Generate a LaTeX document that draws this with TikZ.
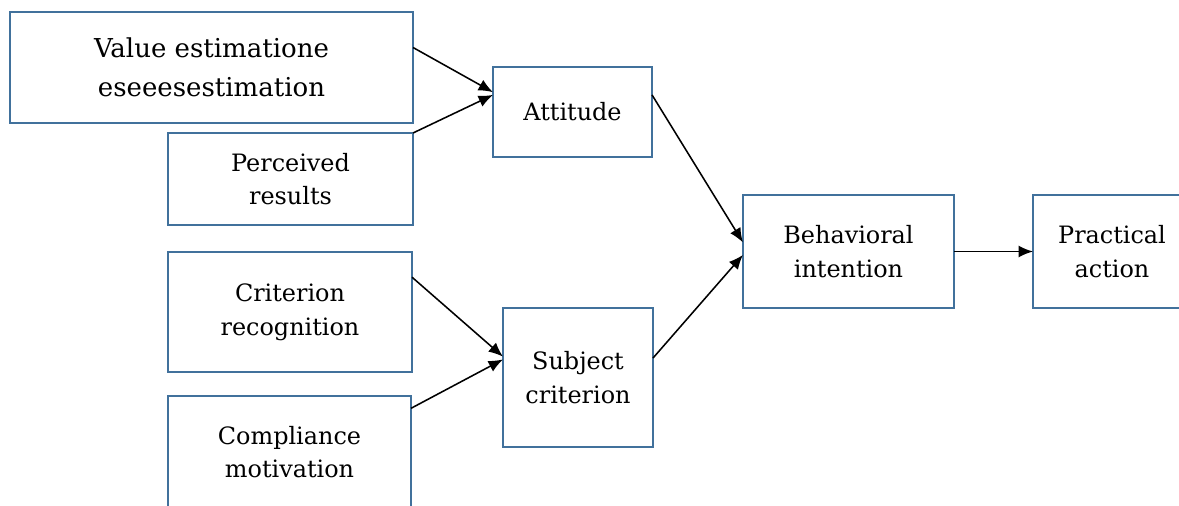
\documentclass[tikz,border=0pt]{standalone}
\usepackage{fontspec}
\setmainfont{DejaVu Serif}
\usetikzlibrary{arrows.meta,calc}
\definecolor{boxblue}{HTML}{41719C}
\begin{document}
\begin{tikzpicture}[x=0.025cm, y=-0.025cm,
        box/.style={draw=boxblue, line width=1.2pt, fill=white, inner sep=0pt, outer sep=0pt, align=center,
            font=\fontsize{17}{24}\selectfont},
        arr/.style={line width=1.1pt, -{Latex[length=3.6mm,width=3mm]}}]
    \clip (0,0) rectangle (1179,506);
    \fill[white] (0,0) rectangle (1179,506);
    % inputs
    \node[box, minimum width=10.075cm, minimum height=2.775cm, font=\fontsize{18.5}{27.5}\selectfont]
        (val) at (211.5,67.5) {Value estimatione\\eseeesestimation};
    \node[box, minimum width=6.125cm, minimum height=2.3cm] (per) at (290.5,179) {Perceived\\results};
    \node[box, minimum width=6.1cm, minimum height=3cm] (cr) at (290,312) {Criterion\\recognition};
    \node[box, minimum width=6.075cm, minimum height=2.8cm] (cm) at (289.5,452) {Compliance\\motivation};
    % middle
    \node[box, minimum width=3.975cm, minimum height=2.25cm] (att) at (572.5,112) {Attitude};
    \node[box, minimum width=3.75cm, minimum height=3.475cm] (sc) at (578,377.5) {Subject\\criterion};
    % output
    \node[box, minimum width=5.275cm, minimum height=2.825cm] (bi) at (848.5,251.5) {Behavioral\\intention};
    \node[box, minimum width=3.95cm, minimum height=2.825cm] (pa) at (1112,251.5) {Practical\\action};
    % arrows
    \draw[arr] ($(val.north east)!0.32!(val.south east)$) -- ($(att.north west)!0.28!(att.south west)$);
    \draw[arr] (per.north east) -- ($(att.north west)!0.31!(att.south west)$);
    \draw[arr] ($(cr.north east)!0.21!(cr.south east)$) -- ($(sc.north west)!0.35!(sc.south west)$);
    \draw[arr] ($(cm.north east)!0.11!(cm.south east)$) -- ($(sc.north west)!0.37!(sc.south west)$);
    \draw[arr] ($(att.north east)!0.31!(att.south east)$) -- ($(bi.north west)!0.42!(bi.south west)$);
    \draw[arr] ($(sc.north east)!0.36!(sc.south east)$) -- ($(bi.north west)!0.53!(bi.south west)$);
    \draw[arr] (bi.east) -- (pa.west);
\end{tikzpicture}
\end{document}
